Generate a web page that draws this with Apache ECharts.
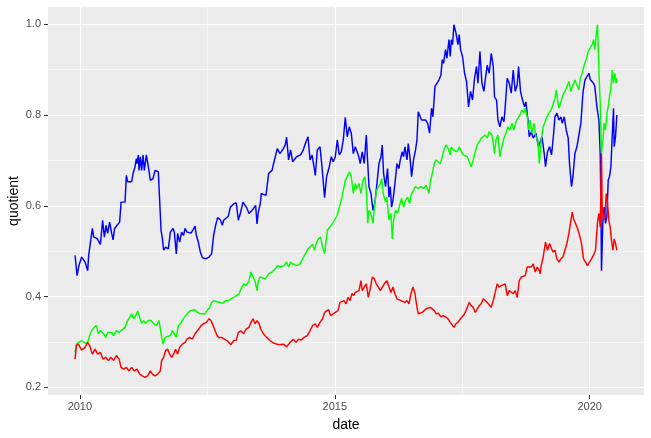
<!DOCTYPE html>
<html>
<head>
<meta charset="utf-8">
<script src="https://cdn.jsdelivr.net/npm/echarts@6/dist/echarts.min.js"></script>
<style>
html,body{margin:0;padding:0;background:#fff;}
#chart{width:651px;height:438px;}
</style>
</head>
<body>
<div id="chart"></div>
<script>
const xTicks = [2010, 2015, 2020];
const xMinorTicks = [2012.5, 2017.5];
const yTicks = [0.2, 0.4, 0.6, 0.8, 1.0];
const yMinorTicks = [0.3, 0.5, 0.7, 0.9];

const blueData = [[2009.906,0.491],[2009.945,0.446],[2009.984,0.469],[2010.035,0.487],[2010.102,0.476],[2010.153,0.457],[2010.173,0.491],[2010.206,0.494],[2010.245,0.550],[2010.271,0.531],[2010.310,0.535],[2010.337,0.528],[2010.363,0.531],[2010.402,0.515],[2010.447,0.568],[2010.480,0.531],[2010.514,0.557],[2010.545,0.539],[2010.584,0.564],[2010.624,0.539],[2010.651,0.525],[2010.682,0.550],[2010.729,0.557],[2010.780,0.564],[2010.808,0.608],[2010.886,0.608],[2010.912,0.667],[2010.937,0.653],[2011.016,0.653],[2011.043,0.671],[2011.082,0.686],[2011.108,0.704],[2011.122,0.693],[2011.147,0.712],[2011.161,0.678],[2011.186,0.708],[2011.212,0.678],[2011.239,0.712],[2011.265,0.678],[2011.304,0.712],[2011.343,0.686],[2011.382,0.656],[2011.435,0.660],[2011.475,0.678],[2011.539,0.675],[2011.565,0.672],[2011.592,0.546],[2011.618,0.528],[2011.643,0.502],[2011.682,0.509],[2011.735,0.505],[2011.775,0.542],[2011.827,0.550],[2011.853,0.542],[2011.892,0.494],[2011.918,0.539],[2011.957,0.520],[2011.996,0.542],[2012.035,0.535],[2012.063,0.550],[2012.102,0.542],[2012.141,0.546],[2012.180,0.540],[2012.220,0.547],[2012.259,0.555],[2012.284,0.535],[2012.324,0.520],[2012.363,0.498],[2012.402,0.486],[2012.467,0.483],[2012.533,0.487],[2012.584,0.494],[2012.624,0.535],[2012.663,0.557],[2012.702,0.574],[2012.755,0.569],[2012.794,0.557],[2012.820,0.568],[2012.859,0.572],[2012.912,0.577],[2012.951,0.597],[2012.990,0.601],[2013.029,0.605],[2013.069,0.606],[2013.108,0.568],[2013.147,0.583],[2013.200,0.608],[2013.239,0.612],[2013.278,0.594],[2013.318,0.583],[2013.357,0.586],[2013.408,0.594],[2013.447,0.601],[2013.475,0.560],[2013.500,0.586],[2013.539,0.605],[2013.559,0.627],[2013.651,0.623],[2013.702,0.671],[2013.769,0.678],[2013.808,0.697],[2013.873,0.726],[2013.925,0.715],[2013.990,0.726],[2014.029,0.734],[2014.055,0.751],[2014.094,0.701],[2014.133,0.723],[2014.173,0.697],[2014.251,0.708],[2014.329,0.712],[2014.382,0.723],[2014.422,0.737],[2014.475,0.752],[2014.514,0.701],[2014.553,0.712],[2014.592,0.686],[2014.618,0.667],[2014.657,0.723],[2014.710,0.730],[2014.749,0.686],[2014.800,0.618],[2014.839,0.664],[2014.892,0.686],[2014.931,0.708],[2014.971,0.697],[2015.010,0.708],[2015.049,0.745],[2015.088,0.712],[2015.127,0.719],[2015.167,0.745],[2015.206,0.795],[2015.245,0.752],[2015.284,0.774],[2015.324,0.760],[2015.363,0.715],[2015.402,0.730],[2015.422,0.734],[2015.461,0.712],[2015.500,0.693],[2015.539,0.719],[2015.578,0.693],[2015.618,0.756],[2015.643,0.701],[2015.671,0.642],[2015.710,0.627],[2015.749,0.590],[2015.788,0.608],[2015.827,0.649],[2015.867,0.693],[2015.906,0.708],[2015.931,0.734],[2015.957,0.671],[2015.996,0.642],[2016.035,0.682],[2016.063,0.619],[2016.088,0.642],[2016.114,0.597],[2016.141,0.612],[2016.180,0.649],[2016.220,0.693],[2016.259,0.682],[2016.284,0.701],[2016.324,0.719],[2016.349,0.708],[2016.376,0.730],[2016.416,0.701],[2016.441,0.737],[2016.480,0.701],[2016.506,0.664],[2016.545,0.701],[2016.584,0.723],[2016.612,0.745],[2016.637,0.807],[2016.663,0.811],[2016.702,0.789],[2016.741,0.785],[2016.780,0.789],[2016.820,0.782],[2016.859,0.760],[2016.898,0.815],[2016.925,0.796],[2016.965,0.863],[2017.004,0.866],[2017.043,0.877],[2017.082,0.888],[2017.108,0.922],[2017.133,0.914],[2017.173,0.944],[2017.200,0.925],[2017.239,0.966],[2017.265,0.929],[2017.284,0.966],[2017.310,0.955],[2017.337,0.999],[2017.376,0.981],[2017.416,0.955],[2017.441,0.977],[2017.467,0.944],[2017.506,0.929],[2017.545,0.892],[2017.584,0.874],[2017.624,0.818],[2017.663,0.852],[2017.702,0.833],[2017.741,0.881],[2017.780,0.907],[2017.808,0.870],[2017.847,0.940],[2017.886,0.870],[2017.925,0.852],[2017.951,0.877],[2017.990,0.910],[2018.029,0.892],[2018.069,0.936],[2018.108,0.907],[2018.133,0.840],[2018.173,0.833],[2018.200,0.789],[2018.239,0.774],[2018.278,0.796],[2018.318,0.785],[2018.343,0.818],[2018.382,0.881],[2018.422,0.870],[2018.461,0.848],[2018.500,0.899],[2018.539,0.852],[2018.578,0.866],[2018.604,0.907],[2018.643,0.852],[2018.682,0.833],[2018.722,0.818],[2018.749,0.829],[2018.788,0.789],[2018.814,0.752],[2018.853,0.763],[2018.892,0.749],[2018.945,0.760],[2018.996,0.730],[2019.029,0.734],[2019.063,0.752],[2019.108,0.715],[2019.133,0.686],[2019.173,0.719],[2019.212,0.730],[2019.251,0.712],[2019.290,0.756],[2019.318,0.796],[2019.357,0.804],[2019.396,0.789],[2019.435,0.796],[2019.461,0.782],[2019.500,0.796],[2019.539,0.767],[2019.578,0.749],[2019.604,0.693],[2019.643,0.642],[2019.671,0.664],[2019.710,0.715],[2019.749,0.730],[2019.788,0.734],[2019.827,0.782],[2019.867,0.848],[2019.906,0.877],[2019.945,0.881],[2019.984,0.892],[2020.010,0.878],[2020.049,0.877],[2020.075,0.870],[2020.100,0.863],[2020.141,0.818],[2020.180,0.789],[2020.206,0.715],[2020.220,0.597],[2020.231,0.457],[2020.259,0.568],[2020.284,0.597],[2020.310,0.561],[2020.337,0.575],[2020.363,0.656],[2020.388,0.664],[2020.416,0.686],[2020.441,0.752],[2020.467,0.815],[2020.480,0.730],[2020.506,0.752],[2020.533,0.800]];

const greenData = [[2009.906,0.277],[2009.931,0.295],[2009.971,0.299],[2010.035,0.303],[2010.102,0.297],[2010.153,0.299],[2010.192,0.314],[2010.231,0.325],[2010.284,0.332],[2010.324,0.336],[2010.363,0.318],[2010.402,0.325],[2010.441,0.329],[2010.467,0.318],[2010.506,0.310],[2010.545,0.321],[2010.584,0.318],[2010.624,0.321],[2010.663,0.314],[2010.716,0.325],[2010.769,0.321],[2010.820,0.326],[2010.886,0.332],[2010.937,0.347],[2010.976,0.354],[2011.016,0.362],[2011.055,0.351],[2011.094,0.358],[2011.133,0.368],[2011.173,0.354],[2011.212,0.341],[2011.251,0.347],[2011.290,0.341],[2011.343,0.347],[2011.394,0.347],[2011.447,0.340],[2011.500,0.336],[2011.553,0.347],[2011.578,0.343],[2011.604,0.310],[2011.631,0.295],[2011.671,0.310],[2011.722,0.312],[2011.775,0.314],[2011.814,0.325],[2011.853,0.329],[2011.892,0.310],[2011.931,0.336],[2011.971,0.340],[2012.010,0.343],[2012.049,0.354],[2012.088,0.358],[2012.127,0.365],[2012.167,0.369],[2012.206,0.373],[2012.259,0.371],[2012.310,0.365],[2012.363,0.362],[2012.402,0.358],[2012.455,0.362],[2012.506,0.371],[2012.545,0.376],[2012.584,0.387],[2012.624,0.391],[2012.663,0.391],[2012.702,0.388],[2012.755,0.387],[2012.808,0.385],[2012.859,0.391],[2012.912,0.391],[2012.965,0.395],[2013.016,0.398],[2013.069,0.402],[2013.122,0.406],[2013.161,0.417],[2013.212,0.428],[2013.265,0.424],[2013.318,0.435],[2013.357,0.454],[2013.396,0.443],[2013.435,0.435],[2013.475,0.413],[2013.500,0.435],[2013.539,0.443],[2013.573,0.446],[2013.637,0.439],[2013.702,0.450],[2013.769,0.454],[2013.833,0.461],[2013.873,0.468],[2013.937,0.465],[2014.004,0.468],[2014.055,0.476],[2014.094,0.465],[2014.133,0.476],[2014.173,0.472],[2014.212,0.476],[2014.265,0.468],[2014.318,0.472],[2014.369,0.483],[2014.422,0.494],[2014.475,0.505],[2014.514,0.509],[2014.565,0.515],[2014.604,0.502],[2014.643,0.520],[2014.682,0.527],[2014.722,0.531],[2014.761,0.509],[2014.800,0.494],[2014.827,0.520],[2014.853,0.546],[2014.892,0.550],[2014.931,0.557],[2014.971,0.564],[2015.010,0.568],[2015.049,0.579],[2015.088,0.597],[2015.127,0.612],[2015.167,0.634],[2015.206,0.656],[2015.245,0.664],[2015.284,0.675],[2015.324,0.664],[2015.363,0.627],[2015.402,0.649],[2015.431,0.638],[2015.475,0.649],[2015.514,0.627],[2015.553,0.656],[2015.592,0.664],[2015.620,0.634],[2015.647,0.561],[2015.671,0.590],[2015.710,0.583],[2015.749,0.561],[2015.778,0.597],[2015.818,0.634],[2015.857,0.642],[2015.896,0.649],[2015.922,0.660],[2015.949,0.627],[2015.996,0.608],[2016.020,0.619],[2016.063,0.568],[2016.102,0.583],[2016.127,0.527],[2016.153,0.568],[2016.192,0.590],[2016.231,0.583],[2016.271,0.601],[2016.310,0.616],[2016.349,0.597],[2016.388,0.612],[2016.427,0.619],[2016.467,0.605],[2016.506,0.627],[2016.545,0.634],[2016.584,0.642],[2016.637,0.638],[2016.690,0.642],[2016.741,0.638],[2016.794,0.645],[2016.847,0.627],[2016.873,0.653],[2016.912,0.671],[2016.951,0.693],[2016.990,0.701],[2017.029,0.704],[2017.069,0.693],[2017.108,0.708],[2017.147,0.726],[2017.186,0.734],[2017.225,0.726],[2017.265,0.712],[2017.284,0.730],[2017.324,0.723],[2017.363,0.726],[2017.402,0.719],[2017.441,0.730],[2017.480,0.719],[2017.520,0.712],[2017.559,0.715],[2017.598,0.708],[2017.637,0.697],[2017.676,0.686],[2017.716,0.701],[2017.755,0.719],[2017.794,0.734],[2017.833,0.741],[2017.873,0.749],[2017.912,0.745],[2017.951,0.756],[2017.990,0.749],[2018.029,0.763],[2018.055,0.767],[2018.082,0.756],[2018.108,0.737],[2018.133,0.715],[2018.161,0.745],[2018.200,0.756],[2018.239,0.708],[2018.278,0.730],[2018.318,0.749],[2018.357,0.760],[2018.396,0.774],[2018.435,0.767],[2018.475,0.782],[2018.514,0.767],[2018.553,0.785],[2018.592,0.793],[2018.631,0.800],[2018.671,0.811],[2018.710,0.804],[2018.735,0.815],[2018.775,0.796],[2018.800,0.767],[2018.827,0.789],[2018.867,0.760],[2018.906,0.782],[2018.945,0.752],[2018.984,0.745],[2019.010,0.693],[2019.029,0.715],[2019.049,0.745],[2019.069,0.760],[2019.088,0.774],[2019.122,0.774],[2019.161,0.796],[2019.200,0.804],[2019.239,0.811],[2019.278,0.822],[2019.318,0.837],[2019.343,0.855],[2019.369,0.833],[2019.396,0.815],[2019.435,0.829],[2019.475,0.844],[2019.514,0.852],[2019.553,0.863],[2019.592,0.874],[2019.631,0.852],[2019.671,0.866],[2019.710,0.877],[2019.749,0.874],[2019.788,0.855],[2019.814,0.881],[2019.853,0.892],[2019.892,0.910],[2019.931,0.922],[2019.971,0.940],[2020.010,0.936],[2020.049,0.955],[2020.075,0.966],[2020.100,0.944],[2020.127,0.977],[2020.153,0.999],[2020.180,0.899],[2020.206,0.826],[2020.231,0.715],[2020.259,0.745],[2020.284,0.782],[2020.310,0.767],[2020.337,0.804],[2020.363,0.818],[2020.388,0.840],[2020.416,0.859],[2020.441,0.899],[2020.467,0.870],[2020.494,0.892],[2020.520,0.870],[2020.533,0.881]];

const redData = [[2009.906,0.262],[2009.931,0.292],[2009.971,0.295],[2010.035,0.282],[2010.102,0.288],[2010.153,0.299],[2010.192,0.292],[2010.245,0.273],[2010.298,0.284],[2010.349,0.273],[2010.402,0.277],[2010.455,0.262],[2010.506,0.266],[2010.559,0.259],[2010.612,0.266],[2010.663,0.259],[2010.716,0.270],[2010.769,0.262],[2010.808,0.244],[2010.859,0.240],[2010.912,0.244],[2010.965,0.236],[2011.016,0.244],[2011.069,0.236],[2011.122,0.240],[2011.173,0.229],[2011.225,0.225],[2011.278,0.222],[2011.329,0.225],[2011.382,0.236],[2011.422,0.229],[2011.475,0.225],[2011.525,0.229],[2011.553,0.233],[2011.578,0.236],[2011.604,0.259],[2011.643,0.266],[2011.682,0.281],[2011.722,0.284],[2011.761,0.273],[2011.800,0.266],[2011.839,0.273],[2011.878,0.284],[2011.918,0.273],[2011.957,0.288],[2012.010,0.295],[2012.063,0.299],[2012.102,0.306],[2012.153,0.310],[2012.206,0.306],[2012.259,0.318],[2012.298,0.321],[2012.337,0.329],[2012.376,0.336],[2012.427,0.340],[2012.480,0.343],[2012.533,0.351],[2012.573,0.347],[2012.612,0.336],[2012.651,0.325],[2012.690,0.314],[2012.729,0.309],[2012.780,0.310],[2012.833,0.306],[2012.886,0.303],[2012.925,0.304],[2012.965,0.294],[2013.016,0.303],[2013.069,0.304],[2013.108,0.321],[2013.161,0.324],[2013.212,0.318],[2013.265,0.329],[2013.318,0.332],[2013.357,0.343],[2013.396,0.351],[2013.435,0.340],[2013.475,0.347],[2013.514,0.341],[2013.545,0.329],[2013.598,0.318],[2013.663,0.310],[2013.729,0.303],[2013.808,0.297],[2013.898,0.294],[2013.990,0.295],[2014.055,0.289],[2014.122,0.299],[2014.186,0.306],[2014.239,0.299],[2014.290,0.306],[2014.343,0.304],[2014.396,0.310],[2014.461,0.314],[2014.514,0.325],[2014.565,0.336],[2014.618,0.340],[2014.657,0.332],[2014.710,0.343],[2014.761,0.351],[2014.800,0.365],[2014.839,0.369],[2014.878,0.371],[2014.918,0.358],[2014.957,0.362],[2015.010,0.365],[2015.063,0.369],[2015.102,0.387],[2015.141,0.384],[2015.180,0.391],[2015.220,0.384],[2015.259,0.398],[2015.298,0.391],[2015.337,0.407],[2015.369,0.402],[2015.402,0.409],[2015.435,0.406],[2015.475,0.413],[2015.514,0.435],[2015.539,0.413],[2015.578,0.421],[2015.618,0.428],[2015.657,0.398],[2015.696,0.417],[2015.735,0.443],[2015.775,0.439],[2015.814,0.428],[2015.853,0.421],[2015.892,0.413],[2015.931,0.417],[2015.971,0.428],[2016.024,0.435],[2016.063,0.421],[2016.102,0.409],[2016.141,0.421],[2016.180,0.406],[2016.220,0.395],[2016.259,0.398],[2016.298,0.391],[2016.337,0.395],[2016.376,0.387],[2016.416,0.391],[2016.455,0.384],[2016.494,0.406],[2016.533,0.421],[2016.573,0.406],[2016.612,0.376],[2016.637,0.362],[2016.676,0.358],[2016.716,0.365],[2016.755,0.369],[2016.794,0.373],[2016.833,0.369],[2016.873,0.376],[2016.912,0.380],[2016.951,0.369],[2016.990,0.362],[2017.035,0.363],[2017.082,0.355],[2017.122,0.358],[2017.173,0.355],[2017.220,0.351],[2017.265,0.343],[2017.298,0.343],[2017.337,0.332],[2017.376,0.340],[2017.416,0.343],[2017.467,0.351],[2017.520,0.358],[2017.559,0.365],[2017.598,0.376],[2017.637,0.387],[2017.676,0.380],[2017.716,0.376],[2017.755,0.365],[2017.794,0.369],[2017.833,0.380],[2017.873,0.384],[2017.912,0.395],[2017.951,0.391],[2017.990,0.387],[2018.029,0.384],[2018.069,0.376],[2018.108,0.391],[2018.147,0.409],[2018.186,0.428],[2018.225,0.421],[2018.265,0.424],[2018.304,0.421],[2018.343,0.428],[2018.382,0.402],[2018.422,0.413],[2018.461,0.417],[2018.500,0.406],[2018.539,0.413],[2018.578,0.398],[2018.618,0.435],[2018.657,0.443],[2018.696,0.439],[2018.735,0.446],[2018.775,0.465],[2018.814,0.468],[2018.853,0.465],[2018.892,0.472],[2018.931,0.454],[2018.971,0.465],[2019.010,0.457],[2019.029,0.450],[2019.049,0.468],[2019.069,0.465],[2019.088,0.487],[2019.108,0.502],[2019.133,0.520],[2019.173,0.502],[2019.212,0.517],[2019.251,0.517],[2019.278,0.498],[2019.318,0.502],[2019.357,0.483],[2019.396,0.476],[2019.435,0.483],[2019.475,0.487],[2019.514,0.491],[2019.553,0.517],[2019.592,0.539],[2019.631,0.568],[2019.657,0.586],[2019.682,0.572],[2019.722,0.561],[2019.761,0.550],[2019.800,0.535],[2019.839,0.517],[2019.878,0.483],[2019.918,0.476],[2019.957,0.468],[2019.996,0.476],[2020.035,0.483],[2020.075,0.491],[2020.114,0.502],[2020.153,0.564],[2020.180,0.583],[2020.206,0.553],[2020.231,0.715],[2020.245,0.597],[2020.271,0.568],[2020.298,0.575],[2020.324,0.627],[2020.349,0.608],[2020.376,0.568],[2020.402,0.553],[2020.427,0.524],[2020.455,0.502],[2020.480,0.527],[2020.506,0.517],[2020.533,0.502]];

const xMin = 2009.375, xMax = 2021.065;
const yMin = 0.183, yMax = 1.038;
const FONT = '"Liberation Sans", Arial, Helvetica, sans-serif';

const chart = echarts.init(document.getElementById('chart'), null, {renderer: 'canvas'});

function lineSeries(name, data, color) {
  return {
    name: name, type: 'line', data: data, xAxisIndex: 0, yAxisIndex: 0,
    showSymbol: false, symbol: 'none', smooth: false,
    lineStyle: {color: color, width: 1.45}, itemStyle: {color: color},
    emphasis: {disabled: true}, silent: true, animation: false
  };
}

chart.setOption({
  animation: false,
  backgroundColor: '#FFFFFF',
  textStyle: {fontFamily: FONT},
  grid: {left: 48, right: 7, top: 7, bottom: 43, show: true, backgroundColor: '#EBEBEB', borderWidth: 0, containLabel: false, outerBoundsMode: 'none'},
  xAxis: [
    {
      type: 'value', min: xMin, max: xMax, gridIndex: 0,
      name: 'date', nameLocation: 'middle', nameGap: 23,
      nameTextStyle: {fontSize: 14, color: '#000000', fontFamily: FONT},
      axisLine: {show: false},
      axisTick: {show: true, length: 4, inside: false, lineStyle: {color: '#333333', width: 1}, customValues: xTicks},
      axisLabel: {show: true, customValues: xTicks, color: '#4D4D4D', fontSize: 11, margin: 6, fontFamily: FONT,
        formatter: function (v) { return String(Math.round(v)); }},
      splitLine: {show: true, lineStyle: {color: '#FFFFFF', width: 1.1}}
    },
    {
      type: 'value', min: xMin, max: xMax, gridIndex: 0, position: 'bottom',
      axisLine: {show: false},
      axisTick: {show: false, customValues: xMinorTicks},
      axisLabel: {show: false, customValues: xMinorTicks},
      splitLine: {show: true, lineStyle: {color: '#FFFFFF', width: 0.55}}
    }
  ],
  yAxis: [
    {
      type: 'value', min: yMin, max: yMax, gridIndex: 0,
      name: 'quotient', nameLocation: 'middle', nameGap: 27, nameRotate: 90, nameMoveOverlap: false,
      nameTextStyle: {fontSize: 14, color: '#000000', fontFamily: FONT},
      axisLine: {show: false},
      axisTick: {show: true, length: 4, inside: false, lineStyle: {color: '#333333', width: 1}, customValues: yTicks},
      axisLabel: {show: true, customValues: yTicks, color: '#4D4D4D', fontSize: 11, margin: 7, fontFamily: FONT,
        formatter: function (v) { return v.toFixed(1); }},
      splitLine: {show: true, lineStyle: {color: '#FFFFFF', width: 1.1}}
    },
    {
      type: 'value', min: yMin, max: yMax, gridIndex: 0, position: 'left',
      axisLine: {show: false},
      axisTick: {show: false, customValues: yMinorTicks},
      axisLabel: {show: false, customValues: yMinorTicks},
      splitLine: {show: true, lineStyle: {color: '#FFFFFF', width: 0.55}}
    }
  ],
  series: [
    lineSeries('blue', blueData, '#0000FF'),
    lineSeries('green', greenData, '#00FF00'),
    lineSeries('red', redData, '#FF0000')
  ]
});
</script>
</body>
</html>
